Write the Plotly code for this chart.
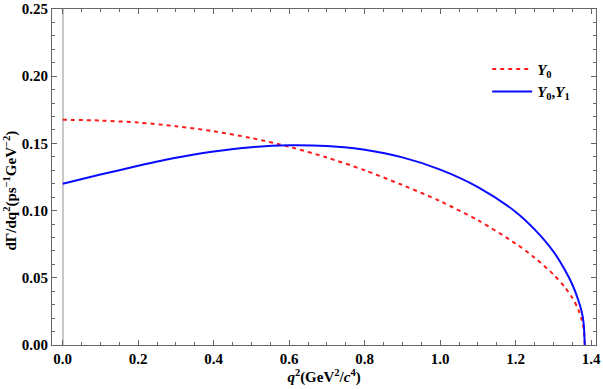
import plotly.graph_objects as go

# q^2 grid (GeV^2/c^4) and differential decay rates
q2 = [0.0, 0.1, 0.2, 0.3, 0.4, 0.5, 0.6, 0.7, 0.8, 0.9, 1.0, 1.1, 1.2,
      1.25, 1.3, 1.33, 1.35, 1.365, 1.375, 1.38, 1.383]
rate_y0 = [0.1676, 0.1670, 0.1655, 0.1628, 0.1590, 0.1540, 0.1475, 0.1395,
           0.1300, 0.1190, 0.1070, 0.0928, 0.0755, 0.0650, 0.0525, 0.0430,
           0.0350, 0.0270, 0.0185, 0.0120, 0.0]
rate_y0y1 = [0.1200, 0.1268, 0.1333, 0.1393, 0.1440, 0.1472, 0.1486, 0.1480,
             0.1452, 0.1396, 0.1305, 0.1175, 0.0990, 0.0860, 0.0695, 0.0560,
             0.0450, 0.0340, 0.0245, 0.0160, 0.0]

serif = "Liberation Serif"

fig = go.Figure()
fig.add_trace(go.Scatter(x=q2, y=rate_y0, mode="lines", name="<b><i>Y</i><sub>0</sub></b>",
                         line=dict(color="#ff1a1a", width=2, dash="4px,4px", shape="spline", smoothing=0.8)))
fig.add_trace(go.Scatter(x=q2, y=rate_y0y1, mode="lines",
                         name="<b><i>Y</i><sub>0</sub>,<i>Y</i><sub>1</sub></b>",
                         line=dict(color="#0a0aff", width=2, shape="spline", smoothing=0.8)))

axis_common = dict(
    ticks="inside", ticklen=5, tickcolor="#666", showline=True, linecolor="#666",
    linewidth=1, mirror="allticks", showgrid=False, automargin=False,
    tickfont=dict(family=serif, size=15, color="black", weight="bold"),
)

fig.update_xaxes(
    range=[-0.0283, 1.4127], tick0=0, dtick=0.2, tickformat=".1f",
    zeroline=True, zerolinecolor="#c8c8c8", zerolinewidth=1.5,
    minor=dict(ticks="inside", ticklen=3, tickcolor="#666", dtick=0.05, tick0=0),
    title=dict(text="<b><i>q</i><sup>2</sup>(GeV<sup>2</sup>/<i>c</i><sup>4</sup>)</b>",
               font=dict(family=serif, size=15, color="black"), standoff=4),
    **axis_common,
)
fig.update_yaxes(
    range=[0, 0.25], tick0=0, dtick=0.05, tickformat=".2f", zeroline=False,
    minor=dict(ticks="inside", ticklen=3, tickcolor="#666", dtick=0.01, tick0=0),
    **axis_common,
)

# y title placed by hand, it sits a little below the axis centre in the original
fig.add_annotation(
    text="<b>dΓ/dq<sup>2</sup>(ps<sup>−1</sup>GeV<sup>−2</sup>)</b>",
    xref="paper", yref="paper", x=-0.077, y=0.46, xanchor="center", yanchor="middle",
    textangle=-90, showarrow=False, font=dict(family=serif, size=15, color="black"),
)

fig.update_layout(
    width=603, height=389,
    margin=dict(l=52, r=7, t=9, b=44),
    plot_bgcolor="white", paper_bgcolor="white",
    legend=dict(x=0.8, y=0.87, xanchor="left", yanchor="top", bgcolor="rgba(0,0,0,0)",
                font=dict(family=serif, size=15, color="black"), itemwidth=40,
                tracegroupgap=4),
    showlegend=True,
)

fig.write_html("out.html", config={"displayModeBar": False},
               post_script="document.body.style.margin='0';")
